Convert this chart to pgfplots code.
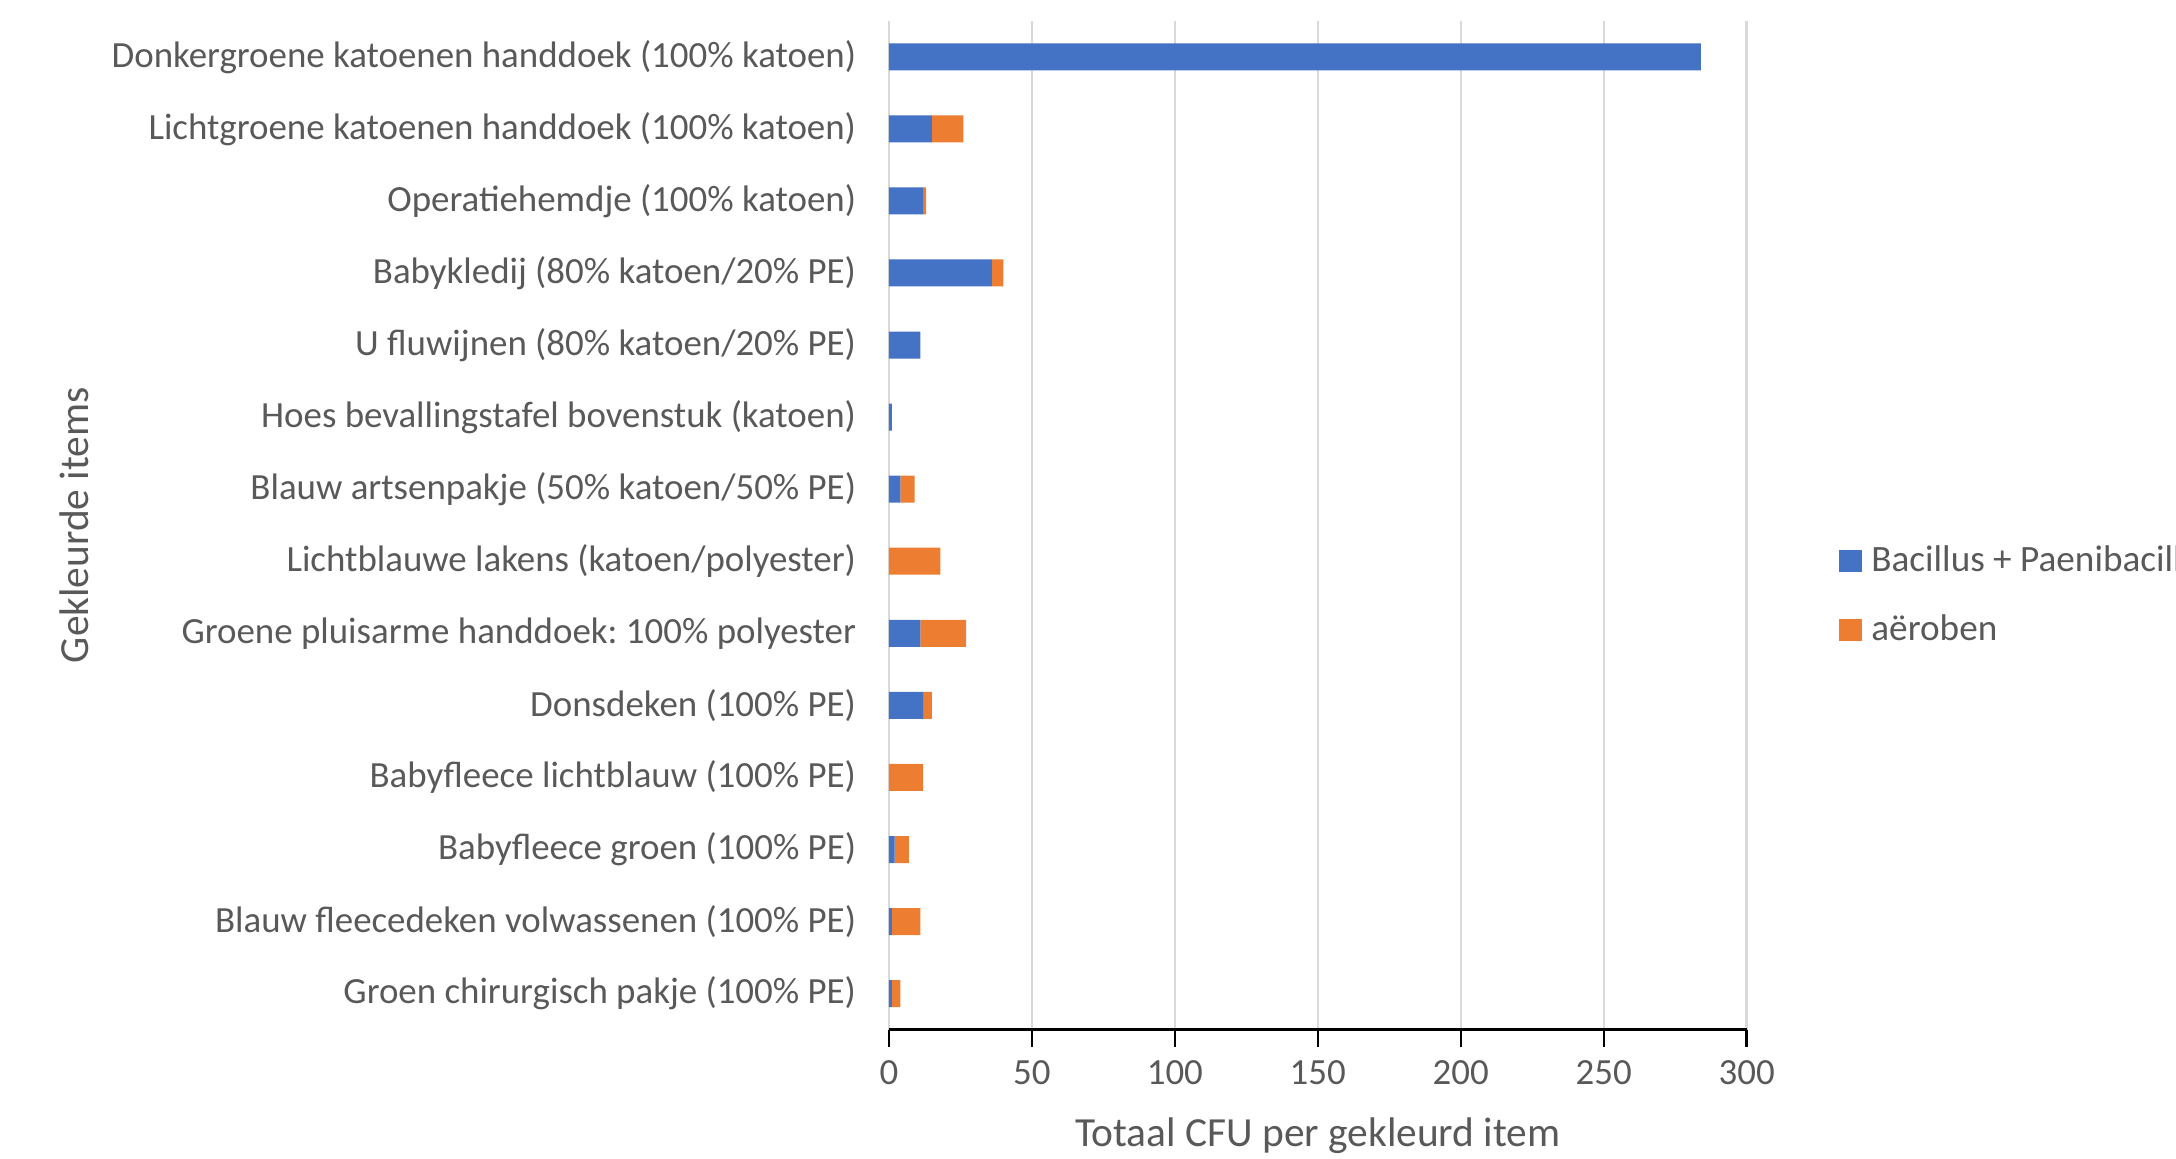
\documentclass[border=0pt]{standalone}
\usepackage{fontspec}
\setmainfont{Carlito}
\usepackage{pgfplots}
\pgfplotsset{compat=1.18}
\definecolor{barblue}{HTML}{4472C4}
\definecolor{barorange}{HTML}{ED7D31}
\definecolor{textgray}{HTML}{595959}
\definecolor{gridgray}{HTML}{D9D9D9}
\frenchspacing
\begin{document}
\begin{tikzpicture}
\begin{axis}[
  at={(0,0)}, anchor=south west,
  scale only axis,
  width=285.9pt, height=336.3pt,
  xbar stacked,
  bar width=9pt,
  xmin=0, xmax=300,
  ymin=-0.5, ymax=13.5,
  y dir=reverse,
  xtick={0,50,...,300},
  ytick={0,...,13},
  yticklabels={
    {Donkergroene katoenen handdoek (100\% katoen)},
    {Lichtgroene katoenen handdoek (100\% katoen)},
    {Operatiehemdje (100\% katoen)},
    {Babykledij (80\% katoen/20\% PE)},
    {U fluwijnen (80\% katoen/20\% PE)},
    {Hoes bevallingstafel bovenstuk (katoen)},
    {Blauw artsenpakje (50\% katoen/50\% PE)},
    {Lichtblauwe lakens (katoen/polyester)},
    {Groene pluisarme handdoek:\ 100\% polyester},
    {Donsdeken (100\% PE)},
    {Babyfleece lichtblauw (100\% PE)},
    {Babyfleece groen (100\% PE)},
    {Blauw fleecedeken volwassenen (100\% PE)},
    {Groen chirurgisch pakje (100\% PE)}},
  axis x line=bottom,
  axis y line=left,
  x axis line style={-, black, line width=1.1pt},
  y axis line style={draw=none},
  xmajorgrids,
  grid style={gridgray, line width=0.8pt},
  tick align=outside,
  major tick length=5.7pt,
  xtick style={black, line width=0.8pt},
  ytick style={draw=none},
  /pgf/number format/assume math mode=true,
  x tick label style={font=\fontsize{12.3}{14}\selectfont, text=textgray, yshift=-1.2pt},
  y tick label style={font=\fontsize{12.3}{14}\selectfont, text=textgray, inner sep=0pt, anchor=east, xshift=-5.1pt},
  xlabel={Totaal CFU per gekleurd item},
  ylabel={Gekleurde items},
  xlabel style={font=\fontsize{13.8}{16}\selectfont, text=textgray, at={(axis description cs:0.5,-0.105)}, anchor=center},
  ylabel style={font=\fontsize{13.8}{16}\selectfont, text=textgray, at={(axis description cs:-0.950,0.5)}, anchor=center},
  legend style={at={(rel axis cs:1.108,0.4305)}, anchor=west, draw=none, fill=none,
    inner sep=0pt, outer sep=0pt, font=\fontsize{12.4}{14}\selectfont, text=textgray,
    row sep=9pt, legend cell align=left,
    /tikz/every odd column/.append style={column sep=1.3pt}},
  legend image code/.code={\fill[#1] (0pt,-3.7pt) rectangle (7.4pt,3.7pt);},
]
\addplot[fill=barblue, draw=none] coordinates {
 (284,0) (15,1) (12,2) (36,3) (11,4) (1,5) (4,6) (0,7) (11,8) (12,9) (0,10) (2,11) (1,12) (1,13)};
\addplot[fill=barorange, draw=none] coordinates {
 (0,0) (11,1) (1,2) (4,3) (0,4) (0,5) (5,6) (18,7) (16,8) (3,9) (12,10) (5,11) (10,12) (3,13)};
\legend{Bacillus + Paenibacillus, aëroben}
\end{axis}
\pgfresetboundingbox
\path[use as bounding box] (-296.3pt,-43.1pt) rectangle (429.0pt,343.2pt);
\end{tikzpicture}
\end{document}
